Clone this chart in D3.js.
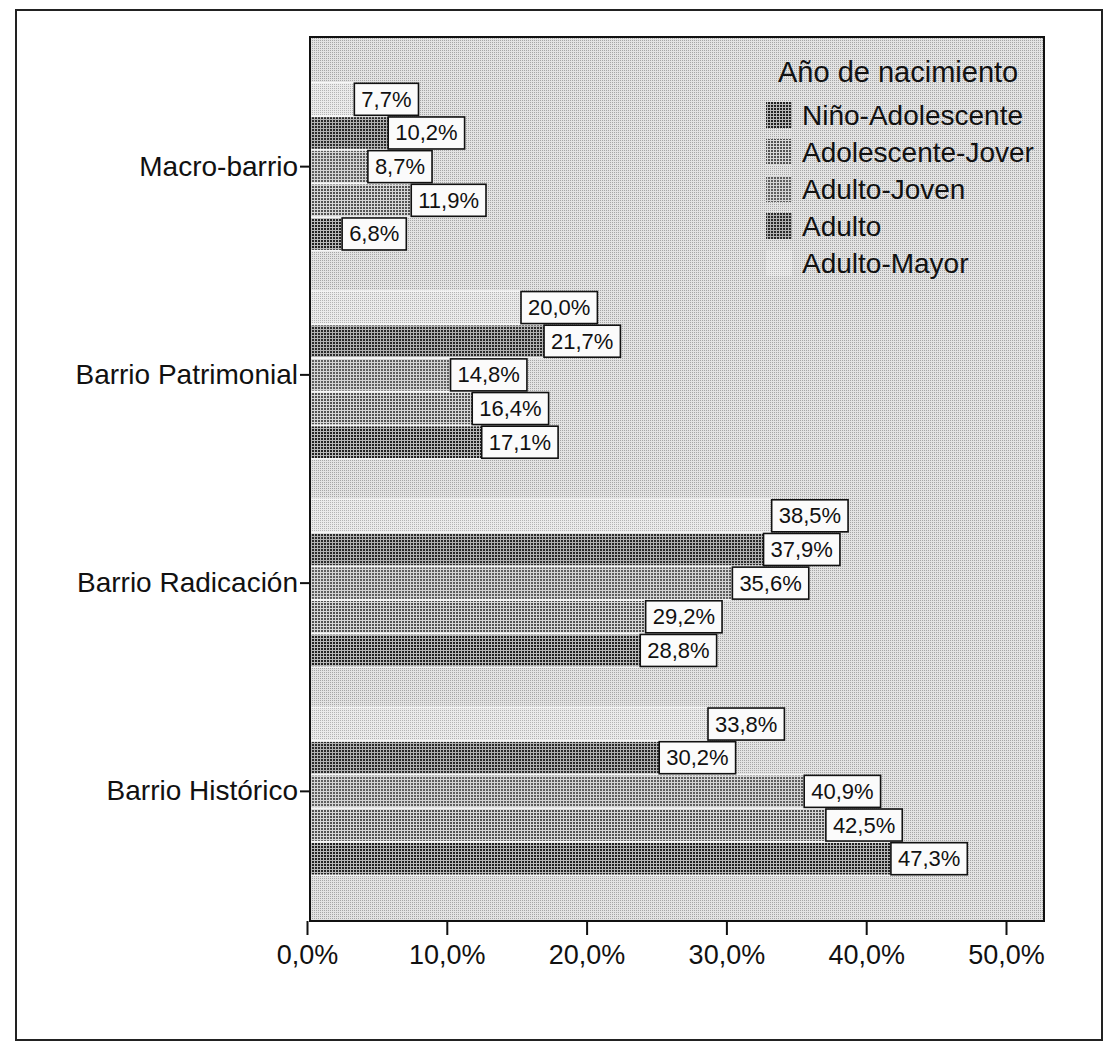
<!DOCTYPE html>
<html>
<head>
<meta charset="utf-8">
<script src="https://cdn.jsdelivr.net/npm/d3@7"></script>
<style>
  html, body { margin: 0; padding: 0; background: #ffffff; }
  svg { display: block; }
  text { font-family: "Liberation Sans", Arial, Helvetica, sans-serif; fill: #111; }
</style>
</head>
<body>
<svg id="chart" width="1108" height="1048"></svg>
<script>
// ---- data ----
const categories = ["Macro-barrio", "Barrio Patrimonial", "Barrio Radicación", "Barrio Histórico"];
const series = ["Niño-Adolescente", "Adolescente-Jover", "Adulto-Joven", "Adulto", "Adulto-Mayor"];
const ninoAdolescente  = [6.8, 17.1, 28.8, 47.3];
const adolescenteJover = [11.9, 16.4, 29.2, 42.5];
const adultoJoven      = [8.7, 14.8, 35.6, 40.9];
const adulto           = [10.2, 21.7, 37.9, 30.2];
const adultoMayor      = [7.7, 20.0, 38.5, 33.8];
const tickValues = [0, 10, 20, 30, 40, 50];
const legendTitle = "Año de nacimiento";

const seriesValues = {
  "Niño-Adolescente": ninoAdolescente,
  "Adolescente-Jover": adolescenteJover,
  "Adulto-Joven": adultoJoven,
  "Adulto": adulto,
  "Adulto-Mayor": adultoMayor
};
// bars are stacked top-to-bottom in reverse legend order
const barOrder = series.slice().reverse();

const fmt = v => v.toFixed(1).replace(".", ",") + "%";

const svg = d3.select("#chart");
const defs = svg.append("defs");

function makePattern(id, size, base, dot, dotSize) {
  const p = defs.append("pattern").attr("id", id)
    .attr("patternUnits", "userSpaceOnUse").attr("width", size).attr("height", size);
  p.append("rect").attr("width", size).attr("height", size).attr("fill", base);
  p.append("rect").attr("x", 0).attr("y", 0).attr("width", dotSize).attr("height", dotSize).attr("fill", dot);
}
makePattern("pBg", 2, "#e3e3e3", "#a6a6a6", 1);
makePattern("pLight", 2, "#ebebeb", "#b4b4b4", 1);
makePattern("pDark1", 3, "#b8b8b8", "#222222", 2);
makePattern("pDark2", 3, "#b2b2b2", "#2a2a2a", 2);
makePattern("pMed1", 3, "#d6d6d6", "#525252", 2);
makePattern("pMed2", 3, "#d4d4d4", "#5e5e5e", 2);

const fills = {
  "Niño-Adolescente": "url(#pDark1)",
  "Adolescente-Jover": "url(#pMed1)",
  "Adulto-Joven": "url(#pMed2)",
  "Adulto": "url(#pDark2)",
  "Adulto-Mayor": "url(#pLight)"
};

// ---- layout ----
const plot = { left: 310, right: 1044, top: 37, bottom: 921 };

// outer frame
svg.append("rect").attr("x", 16).attr("y", 10).attr("width", 1086).attr("height", 1030)
  .attr("fill", "none").attr("stroke", "#222").attr("stroke-width", 2);

// scales
const xAxisScale = d3.scaleLinear().domain([0, 50]).range([307, 1006]);
// bar ends as printed in the reference (bars are offset relative to the axis labels)
const xBar = d3.scaleLinear().domain([0, 50]).range([250, 927.5]);

const y0 = d3.scaleBand().domain(categories).range([plot.top, plot.bottom])
  .paddingInner(0.195).paddingOuter(0.22);
const y1 = d3.scaleBand().domain(barOrder).range([0, y0.bandwidth()])
  .paddingInner(0.06).paddingOuter(0.02);

// plot background
svg.append("rect").attr("x", plot.left).attr("y", plot.top)
  .attr("width", plot.right - plot.left).attr("height", plot.bottom - plot.top)
  .attr("fill", "url(#pBg)");

// bars
const rows = [];
categories.forEach((c, i) => {
  barOrder.forEach(s => rows.push({ cat: c, s: s, v: seriesValues[s][i] }));
});

const barG = svg.append("g");
barG.selectAll("rect.gap").data(rows).enter().append("rect")
  .attr("class", "gap")
  .attr("x", plot.left)
  .attr("y", d => y0(d.cat) + y1(d.s) - 1.5)
  .attr("width", d => Math.max(0, xBar(d.v) - plot.left))
  .attr("height", y1.bandwidth() + 3)
  .attr("fill", "#f6f6f6");
barG.selectAll("rect.bar").data(rows).enter().append("rect")
  .attr("class", "bar")
  .attr("x", plot.left)
  .attr("y", d => y0(d.cat) + y1(d.s))
  .attr("width", d => Math.max(0, xBar(d.v) - plot.left))
  .attr("height", y1.bandwidth())
  .attr("fill", d => fills[d.s]);

// plot frame
svg.append("rect").attr("x", plot.left).attr("y", plot.top)
  .attr("width", plot.right - plot.left).attr("height", plot.bottom - plot.top)
  .attr("fill", "none").attr("stroke", "#111").attr("stroke-width", 2);

// value labels
const labG = svg.append("g");
rows.forEach(d => {
  const g = labG.append("g");
  const cy = y0(d.cat) + y1(d.s) + y1.bandwidth() / 2;
  const t = g.append("text").attr("font-size", 22)
    .attr("dominant-baseline", "central")
    .attr("y", cy).text(fmt(d.v));
  const w = t.node().getComputedTextLength();
  const pad = 7, h = 32;
  const bx = xBar(d.v);
  g.insert("rect", "text").attr("x", bx).attr("y", cy - h / 2)
    .attr("width", w + 2 * pad).attr("height", h)
    .attr("fill", "#fbfbfb").attr("stroke", "#111").attr("stroke-width", 1.6);
  t.attr("x", bx + pad);
});

// x axis
const xAxis = d3.axisBottom(xAxisScale).tickValues(tickValues)
  .tickFormat(v => v.toFixed(1).replace(".", ",") + "%")
  .tickSize(14).tickPadding(10);
const ax = svg.append("g").attr("transform", `translate(0,${plot.bottom})`).call(xAxis);
ax.select(".domain").remove();
ax.selectAll(".tick line").attr("stroke", "#111").attr("stroke-width", 2);
ax.selectAll(".tick text").attr("font-size", 27)
  .attr("font-family", "'Liberation Sans', Arial, sans-serif").attr("fill", "#111");

// y axis (category labels)
const yAxis = d3.axisLeft(y0).tickSize(10).tickPadding(2);
const ay = svg.append("g").attr("transform", `translate(${plot.left},0)`).call(yAxis);
ay.select(".domain").remove();
ay.selectAll(".tick line").attr("stroke", "#111").attr("stroke-width", 2);
ay.selectAll(".tick text").attr("font-size", 28)
  .attr("font-family", "'Liberation Sans', Arial, sans-serif").attr("fill", "#111");

// legend
const lg = svg.append("g");
lg.append("text").attr("x", 778).attr("y", 72).attr("dominant-baseline", "central")
  .attr("font-size", 29).text(legendTitle);
series.forEach((s, i) => {
  const cy = 115 + i * 37;
  lg.append("rect").attr("x", 766).attr("y", cy - 13).attr("width", 26).attr("height", 26)
    .attr("fill", fills[s]);
  lg.append("text").attr("x", 802).attr("y", cy).attr("dominant-baseline", "central")
    .attr("font-size", 28).text(s);
});
</script>
</body>
</html>
